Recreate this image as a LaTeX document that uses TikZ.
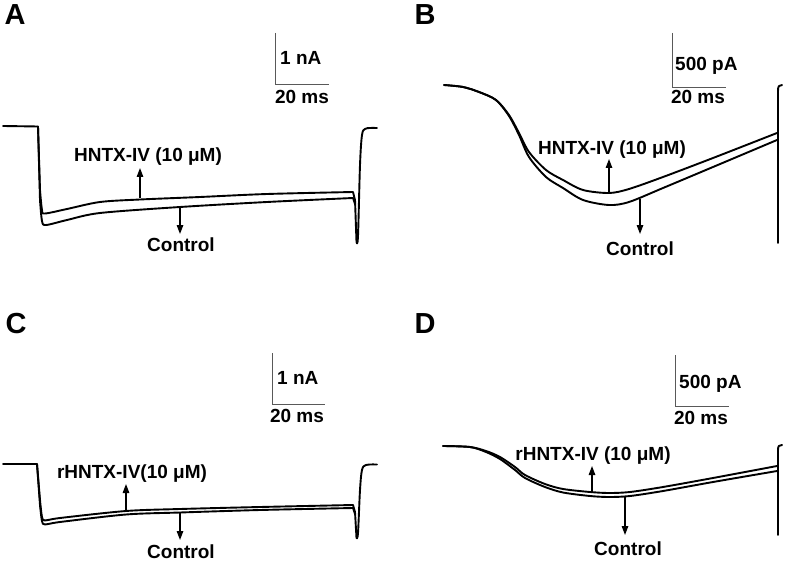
\documentclass[tikz,border=0pt]{standalone}
\usepackage{fontspec}
\setmainfont{Liberation Sans}
\usetikzlibrary{arrows.meta}
\begin{document}
\begin{tikzpicture}[x=1pt,y=-1pt,
 trace/.style={line width=1.9pt, line join=round, line cap=round},
 bar/.style={line width=0.9pt, draw=black!65},
 lbl/.style={font=\fontsize{19}{21}\selectfont\bfseries, inner sep=0pt, anchor=base},
 barlbl/.style={font=\fontsize{19}{21}\selectfont\bfseries, inner sep=0pt},
 panel/.style={font=\fontsize{29}{31}\selectfont\bfseries, inner sep=0pt, anchor=base},
 arr/.style={line width=1.3pt, -{Triangle[length=9pt,width=6.5pt]}}]
\useasboundingbox (0,0) rectangle (792,564);
\fill[white] (0,0) rectangle (792,564);

% ---------- Panel A ----------
\node[panel] (pA) at (15,25) {A};
\coordinate (sA1) at (275.5,33); \coordinate (sA2) at (275.5,84); \coordinate (sA3) at (329,84);
\draw[bar] (sA1) -- (sA2) -- (sA3);
\node[barlbl, anchor=base west] (sAy) at (280,65) {1 nA};
\node[barlbl, anchor=base] (sAx) at (302,104) {20 ms};
\draw[trace] (3,126) -- (38,126.5) -- plot[smooth,tension=0.5] coordinates {(40,190)(42,210)(45,213.5)(67,209)(100,202)(140,199.5)(200,197)(267,194)(353,192)} -- (355,200) -- plot[smooth,tension=0.55] coordinates {(356.5,242)(358,236)(360,165)(362,135)(365,129)(370,128)(377,128)};
\draw[trace] (38,126.5) -- plot[smooth,tension=0.5] coordinates {(40,200)(42,221)(46,225)(67,220)(100,213)(180,207)(267,202)(353,198)} -- (355,204);
\coordinate (aU0) at (140,198); \coordinate (aU1) at (140,168);
\coordinate (aD0) at (180,207); \coordinate (aD1) at (180,234);
\draw[arr] (aU0) -- (aU1);
\draw[arr] (aD0) -- (aD1);
\node[lbl] (tA1) at (148,161.7) {HNTX-IV (10 μM)};
\node[lbl] (tA2) at (181,251.7) {Control};

% ---------- Panel B ----------
\node[panel] (pB) at (425,25) {B};
\coordinate (sB1) at (672,33); \coordinate (sB2) at (672,87); \coordinate (sB3) at (726,87);
\draw[bar] (sB1) -- (sB2) -- (sB3);
\node[barlbl, anchor=base west] (sBy) at (675,70.7) {500 pA};
\node[barlbl, anchor=base] (sBx) at (698,104) {20 ms};
\draw[trace] plot[smooth,tension=0.5] coordinates {(444,85)(463,87)(479,92)(496,100)(509,115)(519,133)(529,152)(546,170)(563,180)(583,190)(609,193)(629,189)(663,177)(713,158)(777,133)};
\draw[trace] plot[smooth,tension=0.5] coordinates {(444,85)(463,87)(479,92)(496,100)(509,116)(519,135)(529,157)(546,177)(563,188)(583,200)(609,205)(629,202)(663,188)(713,167)(777,140)};
\draw[trace] (778,243) -- (778,91) .. controls (778,86) and (779,85) .. (782,85);
\coordinate (bU0) at (609,192); \coordinate (bU1) at (609,159);
\coordinate (bD0) at (640,199); \coordinate (bD1) at (640,234);
\draw[arr] (bU0) -- (bU1);
\draw[arr] (bD0) -- (bD1);
\node[lbl] (tB1) at (612,154.3) {HNTX-IV (10 μM)};
\node[lbl] (tB2) at (640,255) {Control};

% ---------- Panel C ----------
\node[panel] (pC) at (16,333.7) {C};
\coordinate (sC1) at (272,353); \coordinate (sC2) at (272,404); \coordinate (sC3) at (325,404);
\draw[bar] (sC1) -- (sC2) -- (sC3);
\node[barlbl, anchor=base west] (sCy) at (277,384) {1 nA};
\node[barlbl, anchor=base] (sCx) at (297,422.7) {20 ms};
\draw[trace] (3,464) -- (37,464) -- plot[smooth,tension=0.5] coordinates {(40,500)(42,517)(45,520.5)(60,518)(126,511)(180,509)(260,507)(353,505)} -- (355,512) -- plot[smooth,tension=0.55] coordinates {(356.5,538)(358,533)(360,490)(362,470)(366,465)(377,464.5)};
\draw[trace] (37,464) -- plot[smooth,tension=0.5] coordinates {(40,505)(42,521)(45,524.5)(60,522)(126,514.5)(180,512.5)(260,510)(353,508)} -- (355,514);
\coordinate (cU0) at (126,510); \coordinate (cU1) at (126,484);
\coordinate (cD0) at (180,512); \coordinate (cD1) at (180,540);
\draw[arr] (cU0) -- (cU1);
\draw[arr] (cD0) -- (cD1);
\node[lbl] (tC1) at (132,478.7) {rHNTX-IV(10 μM)};
\node[lbl] (tC2) at (181,558) {Control};

% ---------- Panel D ----------
\node[panel] (pD) at (425,333.7) {D};
\coordinate (sD1) at (675,355); \coordinate (sD2) at (675,406); \coordinate (sD3) at (729,406);
\draw[bar] (sD1) -- (sD2) -- (sD3);
\node[barlbl, anchor=base west] (sDy) at (679,388) {500 pA};
\node[barlbl, anchor=base] (sDx) at (701,424.7) {20 ms};
\draw[trace] plot[smooth,tension=0.5] coordinates {(443,446)(470,447)(486,451)(500,457)(515,467)(525,475)(545,484)(563,489)(590,492)(609,493)(630,492)(663,487)(713,478)(777,466)};
\draw[trace] plot[smooth,tension=0.5] coordinates {(443,446)(470,447)(486,452)(500,459)(515,470)(525,478)(545,487)(563,492.5)(590,496)(609,497)(630,496)(663,491)(713,482)(777,471)};
\draw[trace] (778,535) -- (778,450) .. controls (778,446) and (779,445) .. (782,445);
\coordinate (dU0) at (592,492); \coordinate (dU1) at (592,466);
\coordinate (dD0) at (625,497); \coordinate (dD1) at (625,535);
\draw[arr] (dU0) -- (dU1);
\draw[arr] (dD0) -- (dD1);
\node[lbl] (tD1) at (593,460.3) {rHNTX-IV (10 μM)};
\node[lbl] (tD2) at (628,555.3) {Control};
\end{tikzpicture}
\end{document}
